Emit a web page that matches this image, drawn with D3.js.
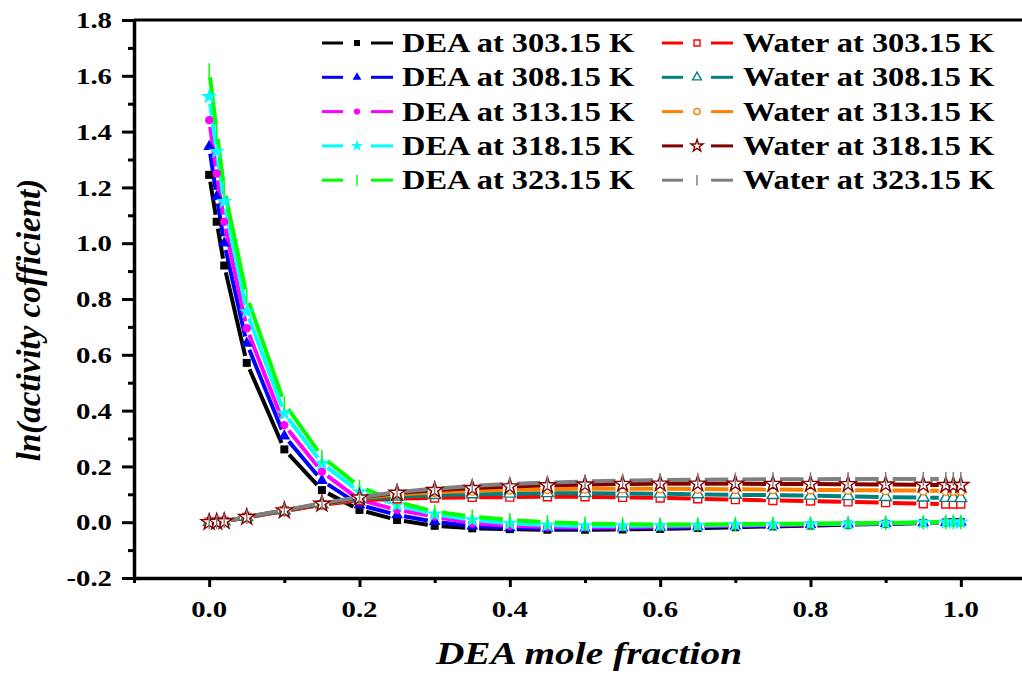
<!DOCTYPE html>
<html>
<head>
<meta charset="utf-8">
<script src="https://cdn.jsdelivr.net/npm/d3@7"></script>
<style>
  body { margin: 0; background: #fff; }
  svg text { font-family: "Liberation Serif", "Times New Roman", serif; }
</style>
</head>
<body>
<svg width="1022" height="675"></svg>
<script>
const width = 1022;
const height = 675;
const margin = { left: 134, right: -14, top: 20, bottom: 97 };

// DEA mole fraction
const xValues = [0, 0.01, 0.02, 0.05, 0.1, 0.15, 0.2, 0.25, 0.3, 0.35, 0.4, 0.45, 0.5,
  0.55, 0.6, 0.65, 0.7, 0.75, 0.8, 0.85, 0.9, 0.95, 0.98, 0.99, 1.0];

// ln(activity coefficient) of DEA
const dea303 = [1.245, 1.077, 0.92, 0.571, 0.261, 0.115, 0.044, 0.008, -0.013, -0.022, -0.025, -0.027, -0.027,
  -0.026, -0.024, -0.021, -0.018, -0.015, -0.012, -0.009, -0.006, -0.003, -0.001, 0, 0];
const dea308 = [1.346, 1.167, 1.0, 0.641, 0.309, 0.149, 0.062, 0.026, 0.002, -0.014, -0.02, -0.022, -0.022,
  -0.021, -0.019, -0.017, -0.014, -0.012, -0.009, -0.007, -0.005, -0.002, -0.001, 0, 0];
const dea313 = [1.441, 1.25, 1.077, 0.695, 0.348, 0.181, 0.08, 0.044, 0.02, -0.004, -0.013, -0.017, -0.018,
  -0.018, -0.016, -0.014, -0.012, -0.01, -0.008, -0.006, -0.004, -0.002, -0.001, 0, 0];
const dea318 = [1.525, 1.328, 1.149, 0.754, 0.39, 0.211, 0.109, 0.062, 0.029, 0.008, -0.004, -0.01, -0.013,
  -0.013, -0.012, -0.011, -0.009, -0.008, -0.006, -0.005, -0.003, -0.001, 0, 0, 0];
const dea323 = [1.62, 1.40, 1.195, 0.81, 0.426, 0.235, 0.127, 0.073, 0.038, 0.02, 0.008, 0.0, -0.005,
  -0.007, -0.008, -0.008, -0.007, -0.006, -0.005, -0.004, -0.003, -0.001, 0, 0, 0];

// ln(activity coefficient) of water
const water303 = [0, 0.001, 0.003, 0.017, 0.04, 0.062, 0.078, 0.084, 0.087, 0.089, 0.09, 0.091, 0.091,
  0.089, 0.087, 0.084, 0.081, 0.078, 0.076, 0.073, 0.07, 0.066, 0.065, 0.065, 0.065];
const water308 = [0, 0.001, 0.003, 0.018, 0.041, 0.064, 0.083, 0.092, 0.097, 0.1, 0.102, 0.104, 0.104,
  0.103, 0.102, 0.1, 0.098, 0.097, 0.095, 0.093, 0.09, 0.088, 0.087, 0.087, 0.086];
const water313 = [0, 0.001, 0.003, 0.018, 0.042, 0.065, 0.086, 0.1, 0.107, 0.112, 0.116, 0.118, 0.12,
  0.12, 0.12, 0.119, 0.118, 0.117, 0.116, 0.115, 0.114, 0.113, 0.112, 0.112, 0.112];
const water318 = [0, 0.001, 0.003, 0.018, 0.042, 0.066, 0.088, 0.105, 0.115, 0.122, 0.128, 0.132, 0.135,
  0.137, 0.138, 0.138, 0.138, 0.137, 0.137, 0.136, 0.135, 0.134, 0.133, 0.133, 0.133];
const water323 = [0, 0.001, 0.003, 0.019, 0.043, 0.068, 0.09, 0.108, 0.12, 0.13, 0.137, 0.142, 0.146,
  0.149, 0.151, 0.152, 0.153, 0.154, 0.154, 0.155, 0.155, 0.155, 0.155, 0.155, 0.155];

const deaNames = ["DEA at 303.15 K", "DEA at 308.15 K", "DEA at 313.15 K", "DEA at 318.15 K", "DEA at 323.15 K"];
const waterNames = ["Water at 303.15 K", "Water at 308.15 K", "Water at 313.15 K", "Water at 318.15 K", "Water at 323.15 K"];

const xTicks = [0, 0.2, 0.4, 0.6, 0.8, 1.0];
const xMinorTicks = [-0.1, 0.1, 0.3, 0.5, 0.7, 0.9];
const yTicks = [-0.2, 0, 0.2, 0.4, 0.6, 0.8, 1.0, 1.2, 1.4, 1.6, 1.8];
const yMinorTicks = [-0.1, 0.1, 0.3, 0.5, 0.7, 0.9, 1.1, 1.3, 1.5, 1.7];

const series = [
  { name: deaNames[0], values: dea303, color: "#000000", shape: "square", filled: true },
  { name: deaNames[1], values: dea308, color: "#0000ff", shape: "triangle", filled: true },
  { name: deaNames[2], values: dea313, color: "#ff00ff", shape: "circle", filled: true },
  { name: deaNames[3], values: dea318, color: "#00ffff", shape: "star", filled: true },
  { name: deaNames[4], values: dea323, color: "#00ff00", shape: "bar", filled: true },
  { name: waterNames[0], values: water303, color: "#ff0000", shape: "square", filled: false },
  { name: waterNames[1], values: water308, color: "#008080", shape: "triangle", filled: false },
  { name: waterNames[2], values: water313, color: "#ff8000", shape: "circle", filled: false },
  { name: waterNames[3], values: water318, color: "#800000", shape: "star", filled: false },
  { name: waterNames[4], values: water323, color: "#808080", shape: "bar", filled: false }
];

const xScale = d3.scaleLinear().domain([-0.1, 1.1]).range([margin.left, width - margin.right]);
const yScale = d3.scaleLinear().domain([-0.2, 1.8]).range([height - margin.bottom, margin.top]);

// plain hyphen for negative labels, like the original
const fmt = d3.formatLocale({ decimal: ".", thousands: ",", grouping: [3], currency: ["", ""], minus: "-" }).format(".1f");

const svg = d3.select("svg");

// the original figure's text is stretched sideways
function stretch(sel, k) {
  sel.each(function () {
    const t = d3.select(this);
    const x = +t.attr("x") || 0;
    t.attr("x", x / k).attr("transform", `scale(${k},1)`);
  });
}

const symbolTypes = {
  square: d3.symbolSquare,
  triangle: d3.symbolTriangle,
  circle: d3.symbolCircle,
  star: d3.symbolStar
};
const symbolSizes = { square: 64, triangle: 60, circle: 55, star: 80 };

function drawMarker(g, s, x, y, scale) {
  if (s.shape === "bar") {
    g.append("line")
      .attr("x1", x).attr("x2", x)
      .attr("y1", y - 7 * scale).attr("y2", y + 7 * scale)
      .attr("stroke", s.color)
      .attr("stroke-width", 1.5);
    return;
  }
  g.append("path")
    .attr("d", d3.symbol().type(symbolTypes[s.shape]).size(symbolSizes[s.shape] * scale * scale)())
    .attr("transform", `translate(${x},${y})`)
    .attr("fill", s.filled ? s.color : "#fff")
    .attr("stroke", s.color)
    .attr("stroke-width", s.filled ? 0 : 1.4);
}

// lines with gaps around the symbols
const gap = 7;
const lines = svg.append("g");
series.forEach((s) => {
  for (let i = 0; i < xValues.length - 1; i++) {
    const x1 = xScale(xValues[i]), y1 = yScale(s.values[i]);
    const x2 = xScale(xValues[i + 1]), y2 = yScale(s.values[i + 1]);
    const len = Math.hypot(x2 - x1, y2 - y1);
    if (len < gap * 2 + 2) continue;
    const ux = (x2 - x1) / len, uy = (y2 - y1) / len;
    lines.append("line")
      .attr("x1", x1 + ux * gap).attr("y1", y1 + uy * gap)
      .attr("x2", x2 - ux * gap).attr("y2", y2 - uy * gap)
      .attr("stroke", s.color)
      .attr("stroke-width", 4);
  }
});

const markers = svg.append("g");
series.forEach((s) => {
  xValues.forEach((xv, i) => drawMarker(markers, s, xScale(xv), yScale(s.values[i]), 1));
});

// axes (ticks from d3, labels added below)
const axisX = svg.append("g")
  .attr("transform", `translate(0,${height - margin.bottom})`)
  .call(d3.axisBottom(xScale).tickValues(xTicks).tickFormat("").tickSize(9).tickSizeOuter(0));
svg.append("g")
  .attr("transform", `translate(0,${height - margin.bottom})`)
  .call(d3.axisBottom(xScale).tickValues(xMinorTicks).tickFormat("").tickSize(5).tickSizeOuter(0))
  .call((g) => g.select(".domain").remove())
  .selectAll("line").attr("stroke-width", 3);

const axisY = svg.append("g")
  .attr("transform", `translate(${margin.left},0)`)
  .call(d3.axisLeft(yScale).tickValues(yTicks).tickFormat("").tickSize(12).tickSizeOuter(0));
svg.append("g")
  .attr("transform", `translate(${margin.left},0)`)
  .call(d3.axisLeft(yScale).tickValues(yMinorTicks).tickFormat("").tickSize(6).tickSizeOuter(0))
  .call((g) => g.select(".domain").remove())
  .selectAll("line").attr("stroke-width", 3);

[axisX, axisY].forEach((ax) => {
  ax.select(".domain").attr("stroke-width", 3.5);
  ax.selectAll(".tick line").attr("stroke-width", 3);
});

svg.append("g")
  .selectAll("text")
  .data(xTicks)
  .join("text")
  .attr("x", (d) => xScale(d))
  .attr("y", height - margin.bottom + 39)
  .attr("text-anchor", "middle")
  .attr("font-size", 24)
  .attr("font-weight", "bold")
  .text(fmt)
  .call(stretch, 1.2);

svg.append("g")
  .selectAll("text")
  .data(yTicks)
  .join("text")
  .attr("x", margin.left - 22)
  .attr("y", (d) => yScale(d))
  .attr("dy", "0.34em")
  .attr("text-anchor", "end")
  .attr("font-size", 24)
  .attr("font-weight", "bold")
  .text(fmt)
  .call(stretch, 1.2);

// top frame line
svg.append("line")
  .attr("x1", margin.left).attr("x2", width)
  .attr("y1", margin.top).attr("y2", margin.top)
  .attr("stroke", "#000").attr("stroke-width", 3);

// axis titles
svg.append("text")
  .attr("x", 589).attr("y", 664)
  .attr("text-anchor", "middle")
  .attr("font-size", 32)
  .attr("font-weight", "bold")
  .attr("font-style", "italic")
  .text("DEA mole fraction")
  .call(stretch, 1.23);

svg.append("text")
  .attr("transform", "translate(40,320) rotate(-90)")
  .attr("text-anchor", "middle")
  .attr("font-size", 33)
  .attr("font-weight", "bold")
  .attr("font-style", "italic")
  .text("ln(activity cofficient)");

// legend
const legend = svg.append("g");
series.forEach((s, i) => {
  const col = i < 5 ? 0 : 1;
  const row = i % 5;
  const x0 = col === 0 ? 322 : 662;
  const y0 = 43 + row * 34.3;
  const g = legend.append("g");
  g.append("line").attr("x1", x0).attr("x2", x0 + 21).attr("y1", y0).attr("y2", y0)
    .attr("stroke", s.color).attr("stroke-width", 3);
  g.append("line").attr("x1", x0 + 49).attr("x2", x0 + 71).attr("y1", y0).attr("y2", y0)
    .attr("stroke", s.color).attr("stroke-width", 3);
  drawMarker(g, s, x0 + 35, y0, 0.75);
  g.append("text")
    .attr("x", col === 0 ? 402 : 743)
    .attr("y", y0 + 9)
    .attr("font-size", 27)
    .attr("font-weight", "bold")
    .text(s.name)
    .call(stretch, 1.2);
});
</script>
</body>
</html>
